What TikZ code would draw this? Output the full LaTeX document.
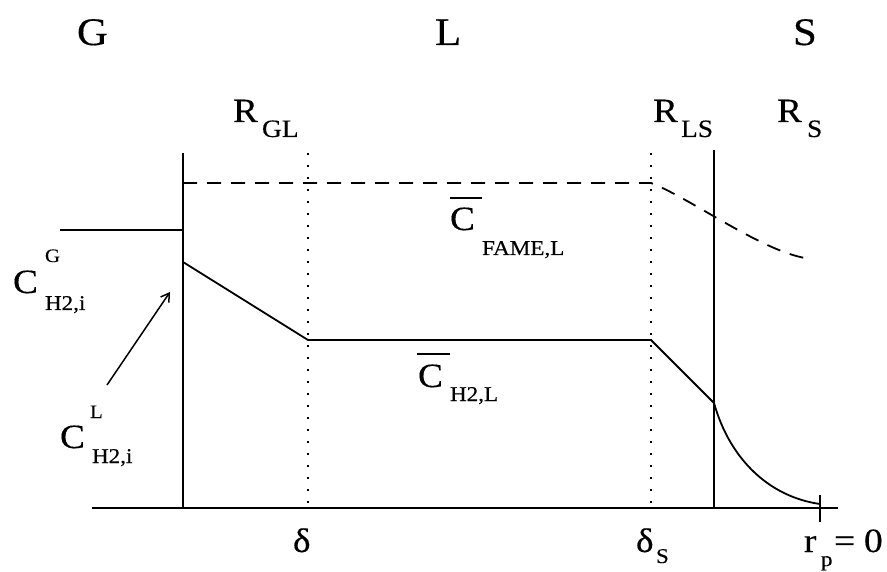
\documentclass[tikz,border=0pt]{standalone}
\usepackage{fontspec}
\setmainfont[FakeStretch=1.1,FakeBold=0.35]{Liberation Serif}
\usetikzlibrary{arrows.meta}
\begin{document}
\begin{tikzpicture}[x=1pt,y=-1pt,
  lbl/.style={anchor=base west,inner sep=0pt,outer sep=0pt},
  solidln/.style={line width=1.8pt},
  dotln/.style={line width=1.6pt,dash pattern=on 2.4pt off 9.6pt},
  dashln/.style={line width=1.8pt,dash pattern=on 14pt off 10pt},
  big/.style={font=\fontsize{39}{42}\selectfont},
  main/.style={font=\fontsize{34}{38}\selectfont},
  sub/.style={font=\fontsize{25}{28}\selectfont},
  tiny/.style={font=\fontsize{21}{24}\selectfont},
  sup/.style={font=\fontsize{19}{22}\selectfont}]
\useasboundingbox (0,0) rectangle (887,572);
% coordinates
\coordinate (bl) at (92,508);
\coordinate (br) at (838,508);
\coordinate (gt) at (183,153);
\coordinate (gb) at (183,508);
\coordinate (st) at (714,150);
\coordinate (sb) at (714,508);
\coordinate (d1t) at (308,153);
\coordinate (d1b) at (308,508);
\coordinate (d2t) at (651,153);
\coordinate (d2b) at (651,508);
\coordinate (gl) at (60,230);
\coordinate (gr) at (183,230);
\coordinate (p0) at (183,262);
\coordinate (p1) at (308,340);
\coordinate (p2) at (651,340);
\coordinate (p3) at (714,403);
\coordinate (p4) at (820,504);
\coordinate (f0) at (183,183);
\coordinate (f1) at (651,183);
\coordinate (f2) at (805,258);
\coordinate (tkt) at (820,495);
\coordinate (tkb) at (820,522);
\coordinate (as) at (107,385);
\coordinate (ae) at (170,292);
% lines
\draw[solidln] (bl) -- (br);
\draw[solidln] (gt) -- (gb);
\draw[solidln] (st) -- (sb);
\draw[solidln] (gl) -- (gr);
\draw[solidln] (tkt) -- (tkb);
\draw[dotln] (d1t) -- (d1b);
\draw[dotln] (d2t) -- (d2b);
\draw[solidln] (p0) -- (p1) -- (p2) -- (p3) .. controls (730,460) and (770,497) .. (p4);
\draw[dashln] (f0) -- (f1) .. controls (690,198) and (760,250) .. (f2);
\draw[line width=1.5pt,-{Straight Barb[length=8pt,width=10pt,line width=1.5pt]}] (as) -- (ae);
% phase labels
\node[lbl,big] (G) at (77,45) {G};
\node[lbl,big] (L) at (435,45) {L};
\node[lbl,big] (S) at (793,45) {S};
% R labels
\node[lbl,main] (R1) at (233,122) {R};
\node[lbl,sub] (R1s) at (262,137) {GL};
\node[lbl,main] (R2) at (653,122) {R};
\node[lbl,sub] (R2s) at (681,137) {LS};
\node[lbl,main] (R3) at (777,122) {R};
\node[lbl,sub] (R3s) at (807,137) {S};
% C^G_{H2,i}
\node[lbl,main] (CG) at (13,293) {C};
\node[lbl,sup] (CGsup) at (45,262) {G};
\node[lbl,tiny] (CGsub) at (45,310) {H2,i};
% C^L_{H2,i}
\node[lbl,main] (CL) at (60,448) {C};
\node[lbl,sup] (CLsup) at (90,418) {L};
\node[lbl,tiny] (CLsub) at (92,463) {H2,i};
% bar C FAME,L
\node[lbl,main] (CF) at (450,230) {C};
\node[lbl,tiny] (CFsub) at (482,255) {FAME,L};
\coordinate (cfb1) at (450,198);
\coordinate (cfb2) at (482,198);
\draw[line width=1.5pt] (cfb1) -- (cfb2);
% bar C H2,L
\node[lbl,main] (CH) at (418,387) {C};
\node[lbl,tiny] (CHsub) at (450,401) {H2,L};
\coordinate (chb1) at (417,354);
\coordinate (chb2) at (450,354);
\draw[line width=1.5pt] (chb1) -- (chb2);
% bottom labels
\node[lbl,main] (dl) at (293,552) {δ};
\node[lbl,main] (ds) at (636,552) {δ};
\node[lbl,tiny] (dss) at (656,563) {S};
\node[lbl,main] (rp) at (804,552) {r};
\node[lbl,tiny] (rps) at (821,566) {p};
\node[lbl,main] (eq) at (834,552) {=};
\node[lbl,main] (zero) at (864,552) {0};
\end{tikzpicture}
\end{document}
